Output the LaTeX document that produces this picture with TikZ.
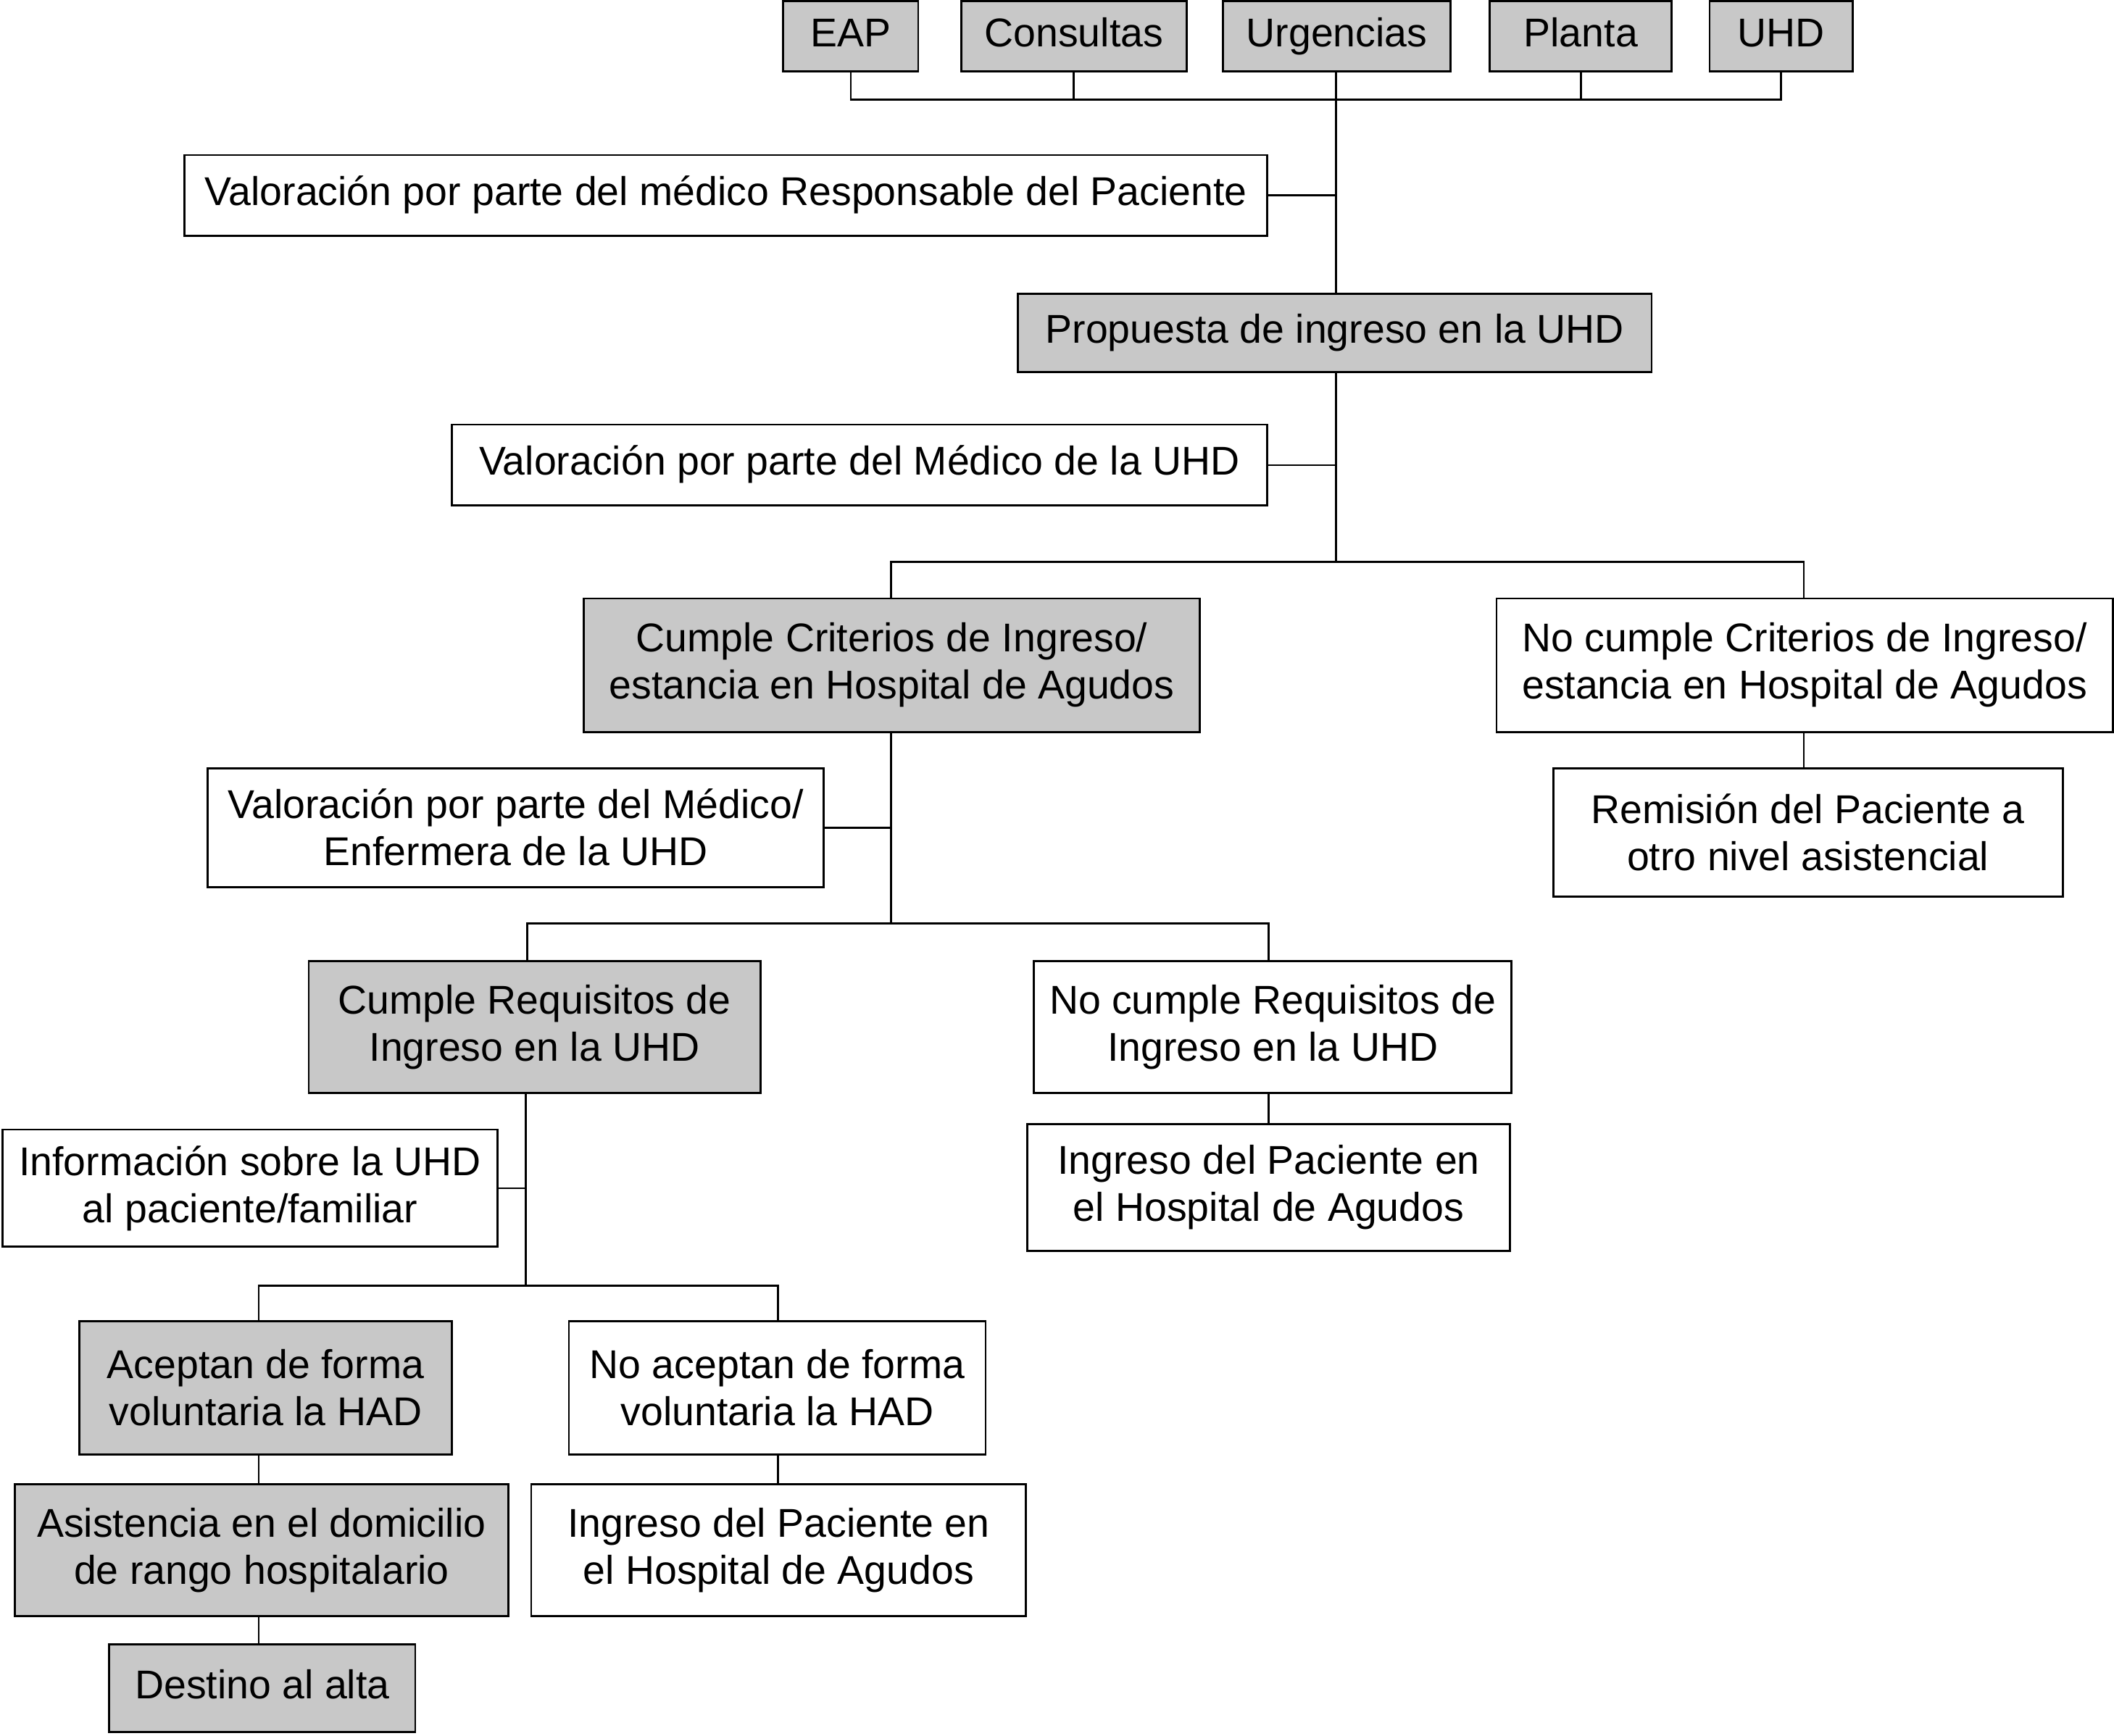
\documentclass[tikz,border=0pt]{standalone}
\usepackage{fontspec}
\setmainfont{Liberation Sans}
\definecolor{boxgray}{RGB}{200,200,200}
\begin{document}
\begin{tikzpicture}[x=0.5pt,y=-0.5pt,
  box/.style={draw=black, line width=0.75pt, fill=white, inner sep=0pt, align=center, font=\fontsize{14.9}{17.5}\selectfont},
  gbox/.style={box, fill=boxgray},
  oneline/.style={text height=11pt, text depth=3.5pt},
  conn/.style={draw=black, line width=0.7pt}]
\useasboundingbox[fill=white] (0,0) rectangle (1568,1287.4);
% top sources
\node[gbox, oneline, minimum width=50pt, minimum height=26pt] (eap) at (631,27) {EAP};
\node[gbox, oneline, minimum width=83.5pt, minimum height=26pt] (cons) at (796.5,27) {Consultas};
\node[gbox, oneline, minimum width=84.5pt, minimum height=26pt] (urg) at (991.5,27) {Urgencias};
\node[gbox, oneline, minimum width=67.5pt, minimum height=26pt] (planta) at (1172.5,27) {Planta};
\node[gbox, oneline, minimum width=53pt, minimum height=26pt] (uhd) at (1321,27) {UHD};
% main column
\node[box, oneline, minimum width=401.5pt, minimum height=30pt] (val1) at (538.5,145) {Valoración por parte del médico Responsable del Paciente};
\node[gbox, oneline, minimum width=235pt, minimum height=29pt] (prop) at (990,247) {Propuesta de ingreso en la UHD};
\node[box, oneline, minimum width=302.5pt, minimum height=30pt] (val2) at (637.5,345) {Valoración por parte del Médico de la UHD};
\node[gbox, minimum width=228.5pt, minimum height=49.5pt] (cumple1) at (661.5,493.5) {Cumple Criterios de Ingreso/\\estancia en Hospital de Agudos};
\node[box, minimum width=228.5pt, minimum height=49.5pt] (nocumple1) at (1338.5,493.5) {No cumple Criterios de Ingreso/\\estancia en Hospital de Agudos};
\node[box, minimum width=189pt, minimum height=47.5pt] (remision) at (1341,617.5) {Remisión del Paciente a\\otro nivel asistencial};
\node[box, minimum width=228.5pt, minimum height=44pt] (val3) at (382.5,614) {Valoración por parte del Médico/\\Enfermera de la UHD};
\node[gbox, minimum width=167.5pt, minimum height=49pt] (cumple2) at (396.5,762) {Cumple Requisitos de\\Ingreso en la UHD};
\node[box, minimum width=177pt, minimum height=49pt] (nocumple2) at (944,762) {No cumple Requisitos de\\Ingreso en la UHD};
\node[box, minimum width=179pt, minimum height=47pt] (ingreso1) at (941,881) {Ingreso del Paciente en\\el Hospital de Agudos};
\node[box, minimum width=183.5pt, minimum height=43.5pt] (info) at (185.5,881.5) {Información sobre la UHD\\al paciente/familiar};
\node[gbox, minimum width=138pt, minimum height=49.5pt] (aceptan) at (197,1029.5) {Aceptan de forma\\voluntaria la HAD};
\node[box, minimum width=154.5pt, minimum height=49.5pt] (noacept) at (576.5,1029.5) {No aceptan de forma\\voluntaria la HAD};
\node[box, minimum width=183.5pt, minimum height=49pt] (ingreso2) at (577.5,1150) {Ingreso del Paciente en\\el Hospital de Agudos};
\node[gbox, minimum width=183pt, minimum height=49pt] (asist) at (194,1150) {Asistencia en el domicilio\\de rango hospitalario};
\node[gbox, oneline, minimum width=113.5pt, minimum height=32.5pt] (destino) at (194.5,1252.5) {Destino al alta};
% connectors
\coordinate (bus) at (991,74);
\draw[conn] (eap.south) -- (eap.south |- bus) -- (uhd.south |- bus) -- (uhd.south);
\draw[conn] (cons.south) -- (cons.south |- bus);
\draw[conn] (planta.south) -- (planta.south |- bus);
\coordinate (s1) at (991,417);
\draw[conn] (s1 |- urg.south) -- (s1 |- prop.north);
\draw[conn] (val1.east) -- (val1.east -| s1);
\draw[conn] (s1 |- prop.south) -- (s1);
\draw[conn] (val2.east) -- (val2.east -| s1);
\coordinate (s1L) at (661,417);
\coordinate (s1R) at (1338,417);
\draw[conn] (s1L |- cumple1.north) -- (s1L) -- (s1R) -- (s1R |- nocumple1.north);
\draw[conn] (s1R |- nocumple1.south) -- (s1R |- remision.north);
\coordinate (s2) at (661,685);
\draw[conn] (s2 |- cumple1.south) -- (s2);
\draw[conn] (val3.east) -- (val3.east -| s2);
\coordinate (s2L) at (391,685);
\coordinate (s2R) at (941,685);
\draw[conn] (s2L |- cumple2.north) -- (s2L) -- (s2R) -- (s2R |- nocumple2.north);
\draw[conn] (s2R |- nocumple2.south) -- (s2R |- ingreso1.north);
\coordinate (s3) at (390,954);
\draw[conn] (s3 |- cumple2.south) -- (s3);
\draw[conn] (info.east) -- (info.east -| s3);
\coordinate (s3L) at (192,954);
\coordinate (s3R) at (577,954);
\draw[conn] (s3L |- aceptan.north) -- (s3L) -- (s3R) -- (s3R |- noacept.north);
\draw[conn] (s3R |- noacept.south) -- (s3R |- ingreso2.north);
\draw[conn] (s3L |- aceptan.south) -- (s3L |- asist.north);
\draw[conn] (s3L |- asist.south) -- (s3L |- destino.north);
\end{tikzpicture}
\end{document}
